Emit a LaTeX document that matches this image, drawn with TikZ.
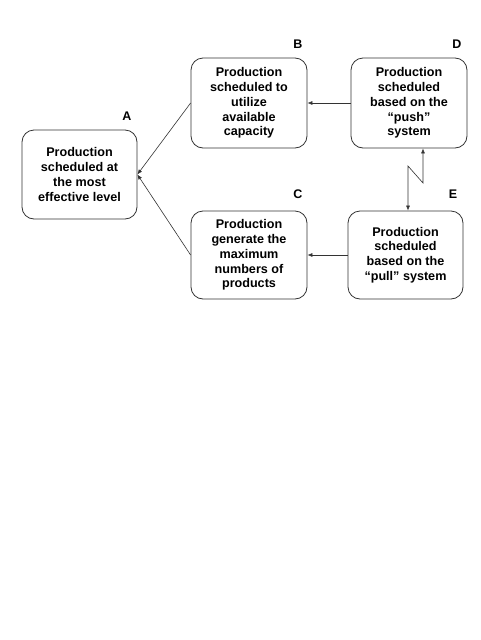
\documentclass[tikz,border=0pt]{standalone}
\usepackage{fontspec}
\setmainfont{Liberation Sans}
\usetikzlibrary{arrows.meta}
\begin{document}
\begin{tikzpicture}[x=1pt,y=-1pt,
  box/.style={draw=black!80, line width=0.8pt, rounded corners=12pt, align=center,
    font=\bfseries\fontsize{12.6}{14.8}\selectfont, inner sep=2pt},
  lab/.style={font=\bfseries\fontsize{12.5}{14}\selectfont},
  arr/.style={draw=black!80, line width=0.6pt, -{Latex[length=5pt,width=4pt]}},
  darr/.style={draw=black!80, line width=0.6pt, {Latex[length=5pt,width=4pt]}-{Latex[length=5pt,width=4pt]}}]
\useasboundingbox (0,0) rectangle (480,640);
\fill[white] (0,0) rectangle (480,640);
\node[box, minimum width=115pt, minimum height=89pt] (A) at (79.5,174.5)
  {Production\\scheduled at\\the most\\effective level};
\node[box, minimum width=116pt, minimum height=90pt] (B) at (249,103)
  {Production\\scheduled to\\utilize\\available\\capacity};
\node[box, minimum width=116pt, minimum height=90pt] (D) at (409,103)
  {Production\\scheduled\\based on the\\“push”\\system};
\node[box, minimum width=116pt, minimum height=88pt] (C) at (249,255)
  {Production\\generate the\\maximum\\numbers of\\products};
\node[box, minimum width=115pt, minimum height=88pt] (E) at (405.5,255)
  {Production\\scheduled\\based on the\\“pull” system};
\node[lab] (lA) at (127,116) {A};
\node[lab] (lB) at (298,44) {B};
\node[lab] (lD) at (457,44) {D};
\node[lab] (lC) at (298,194) {C};
\node[lab] (lE) at (453,194) {E};
\draw[arr] (D.west) -- (B.east);
\draw[arr] (E.west) -- (C.east);
\draw[arr] (B.west) -- (A.east);
\draw[arr] (C.west) -- (A.east);
\coordinate (z1) at (423,183);
\coordinate (z2) at (408,166);
\draw[darr] ([xshift=14pt]D.south) -- (z1) -- (z2) -- ([xshift=2.5pt]E.north);
\end{tikzpicture}
\end{document}
